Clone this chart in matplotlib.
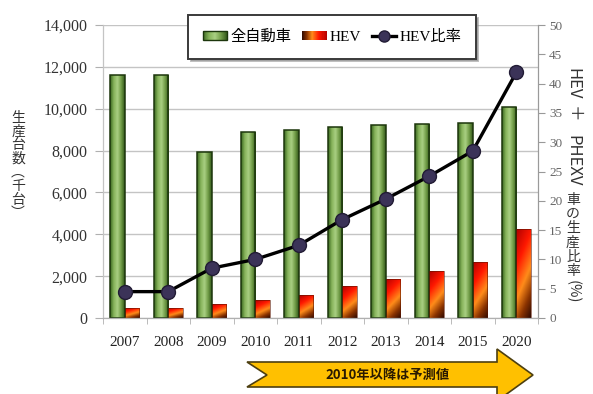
import numpy as np
import matplotlib
matplotlib.use("Agg")
import matplotlib.pyplot as plt
from matplotlib.colors import LinearSegmentedColormap
from matplotlib.lines import Line2D
from matplotlib.patches import Patch, Rectangle, Polygon
from matplotlib.legend_handler import HandlerBase

# data
years = ["2007", "2008", "2009", "2010", "2011", "2012", "2013", "2014", "2015", "2020"]
all_cars = [11600, 11600, 7950, 8900, 9000, 9150, 9200, 9250, 9300, 10100]
hev_cars = [500, 500, 680, 860, 1080, 1520, 1870, 2230, 2680, 4230]
hev_ratio = [4.5, 4.5, 8.5, 10.0, 12.4, 16.8, 20.3, 24.2, 28.5, 41.9]
left_ticks = [0, 2000, 4000, 6000, 8000, 10000, 12000, 14000]
right_ticks = [0, 5, 10, 15, 20, 25, 30, 35, 40, 45, 50]

W, H = 593, 394
serif_jp = ["Liberation Serif", "Noto Sans CJK JP"]
jp = ["Noto Sans CJK JP", "DejaVu Sans"]

green_cmap = LinearSegmentedColormap.from_list(
    "g", ["#3b6820", "#86b35a", "#a9cf82", "#729d48", "#33591a"])
hev_cmap = LinearSegmentedColormap.from_list(
    "h", [(0, "#b00000"), (0.3, "#ff1800"), (0.58, "#ff8c1a"), (0.8, "#8a3300"), (1, "#300a00")])


def px(x, y):
    return x / W, 1 - y / H


def gradient_fill(ax, bars, cmap, kind):
    xx, yy = np.meshgrid(np.linspace(0, 1, 40), np.linspace(0, 1, 80))
    if kind == "h":
        grad = xx
    else:
        grad = 0.72 * (1 - yy) + 0.28 * xx
    for b in bars:
        x0, y0, w, h = b.get_x(), b.get_y(), b.get_width(), b.get_height()
        im = ax.imshow(grad, extent=[x0, x0 + w, y0, y0 + h], cmap=cmap, origin="lower",
                       aspect="auto", zorder=1.9, interpolation="bilinear")
        im.set_clip_path(b)


class GradHandler(HandlerBase):
    def __init__(self, cmap, edge, reverse=False):
        super().__init__()
        self.cmap, self.edge, self.reverse = cmap, edge, reverse

    def create_artists(self, legend, orig_handle, xdescent, ydescent, width, height, fontsize, trans):
        n = 24
        arts = []
        for i in range(n):
            t = (i + 0.5) / n
            c = self.cmap(1 - t if self.reverse else t)
            arts.append(Rectangle((-xdescent + i * width / n, -ydescent), width / n + 0.3, height,
                                  facecolor=c, edgecolor="none", transform=trans))
        arts.append(Rectangle((-xdescent, -ydescent), width, height, facecolor="none",
                              edgecolor=self.edge, lw=1, transform=trans))
        return arts


fig = plt.figure(figsize=(W / 100, H / 100), dpi=100)
ax = fig.add_axes([103 / W, 1 - 318 / H, 435 / W, 293 / H])
ax2 = ax.twinx()

x = np.arange(len(years))
bw = 0.335
g_bars = ax.bar(x - bw / 2, all_cars, width=bw, facecolor="none", edgecolor="#1c360c", lw=1.1, zorder=2)
h_bars = ax.bar(x + bw / 2, hev_cars, width=bw, facecolor="none", edgecolor="#5a1500", lw=0.4, zorder=2)
gradient_fill(ax, g_bars, green_cmap, "h")
gradient_fill(ax, h_bars, hev_cmap, "d")

ax2.plot(x, hev_ratio, color="black", lw=2.4, marker="o", markersize=10,
         markerfacecolor="#3b3358", markeredgecolor="#221c35", markeredgewidth=1, zorder=3)

ax.set_xlim(-0.5, len(years) - 0.5)
ax.set_ylim(0, 14000)
ax2.set_ylim(0, 50)

ax.set_axisbelow(True)
ax.yaxis.grid(True, color="#c4c4c4", lw=1)
ax.set_yticks(left_ticks)
ax.set_yticklabels([f"{v:,}" for v in left_ticks], family=serif_jp, fontsize=11.5, color="#333333")
ax.tick_params(axis="y", length=6, color="#b0b0b0", pad=5)
ax.set_xticks(x)
ax.set_xticklabels(years, family=serif_jp, fontsize=11, color="#222222")
ax.set_xticks(np.arange(-0.5, len(years)), minor=True)
ax.tick_params(axis="x", which="major", length=0, pad=13)
ax.tick_params(axis="x", which="minor", length=4, color="#b0b0b0", direction="out")

ax2.set_yticks(right_ticks)
ax2.set_yticklabels([str(v) for v in right_ticks], family=serif_jp, fontsize=9.5, color="#666666")
ax2.tick_params(axis="y", length=5, color="#999999", pad=3)

for a in (ax, ax2):
    a.spines["top"].set_visible(False)
    a.spines["left"].set_color("#c4c4c4")
    a.spines["bottom"].set_color("#b0b0b0")
    a.spines["right"].set_color("#9a9a9a")

# legend
hg = Patch(label="全自動車")
hh = Patch(label="HEV")
hl = Line2D([], [], color="black", lw=2.4, marker="o", markersize=8,
            markerfacecolor="#3b3358", markeredgecolor="#221c35", label="HEV比率")
leg = fig.legend(handles=[hg, hh, hl], loc="center", bbox_to_anchor=px(332, 37), ncol=3,
                 prop={"family": serif_jp, "size": 11}, frameon=True, fancybox=False,
                 borderpad=0.95, handlelength=1.6, handleheight=0.55, handletextpad=0.2,
                 columnspacing=0.7,
                 shadow={"color": "#8a8a8a", "alpha": 0.55},
                 handler_map={hg: GradHandler(green_cmap, "#1c360c"),
                              hh: GradHandler(hev_cmap, "none", reverse=True)})
leg.get_frame().set_edgecolor("#3a3a3a")
leg.get_frame().set_linewidth(1.4)

# left vertical label (written top to bottom)
for i, ch in enumerate("生産台数︵千台︶"):
    fig.text(*px(18, 118 + 13.6 * i), ch, ha="center", va="center",
             family=jp, fontsize=10, color="#333333")

# right vertical label
rx = 573
for txt, yc in [("HEV", 84), ("＋", 114), ("PHEXV", 161)]:
    fig.text(*px(rx, yc), txt, ha="center", va="center", rotation=-90,
             family=jp, fontsize=12, color="#333333")
for i, ch in enumerate("車の生産比率"):
    fig.text(*px(rx, 200 + 14.2 * i), ch, ha="center", va="center",
             family=jp, fontsize=10, color="#333333")
fig.text(*px(rx, 292), "(%)", ha="center", va="center", rotation=-90,
         family=jp, fontsize=10.5, color="#333333")

# forecast arrow
arrow_pts = [(247, 362), (497, 362), (497, 349), (533, 375), (497, 401),
             (497, 387), (247, 387), (267, 375)]
fig.patches.append(Polygon([px(a, b) for a, b in arrow_pts], closed=True, transform=fig.transFigure,
                           facecolor="#ffc000", edgecolor="#4d3f10", lw=1.2))
fig.text(*px(388, 374.5), "2010年以降は予測値", ha="center", va="center",
         family=jp, fontsize=9.5, fontweight="bold", color="#2a1a00")

fig.savefig("out.png", dpi=100, facecolor="white")
